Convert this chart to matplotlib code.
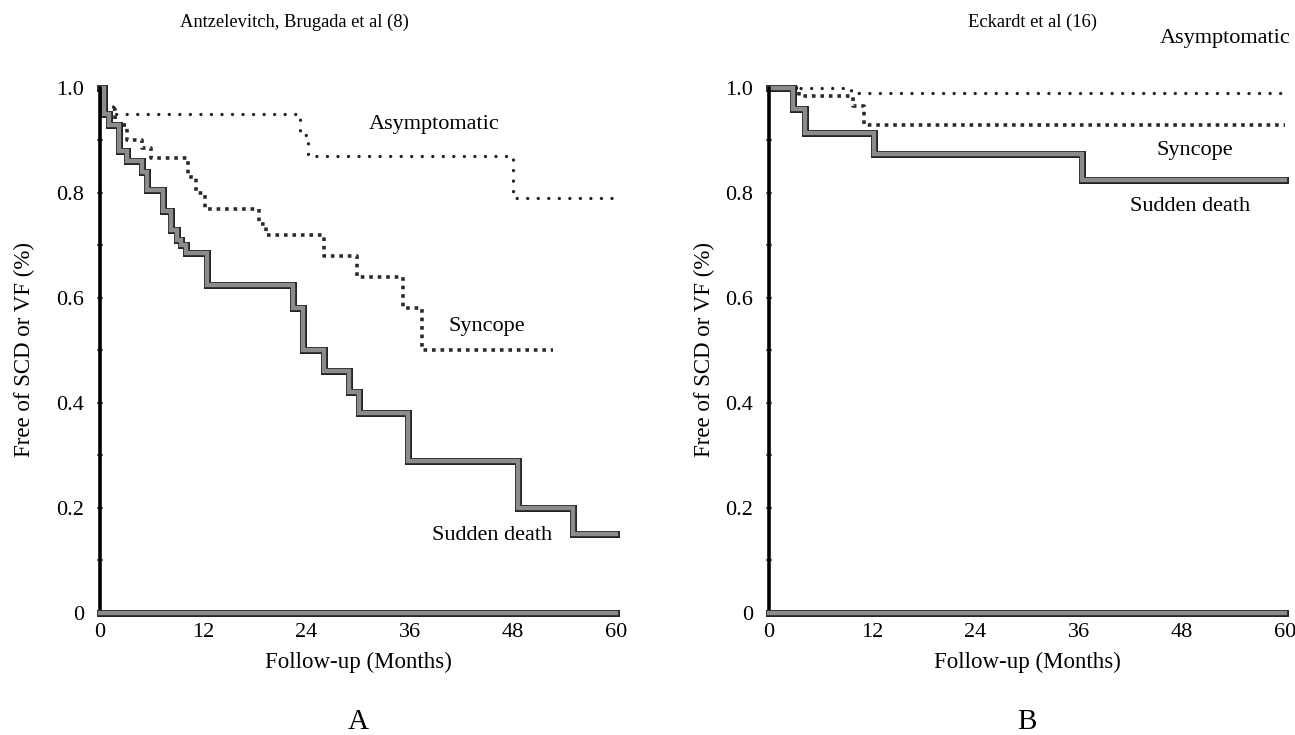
import matplotlib
matplotlib.use("Agg")
import matplotlib.pyplot as plt
import matplotlib.patheffects as pe

plt.rcParams["font.family"] = ["Liberation Serif", "DejaVu Serif"]

# panel A: Antzelevitch, Brugada et al (8) -- step start times (months) and survival
a_asym_t = [0, 0.6, 1.5, 23.2, 24.2, 48.0, 60]
a_asym_s = [1.0, 0.97, 0.95, 0.91, 0.87, 0.79, 0.79]
a_sync_t = [0, 0.6, 1.8, 3.1, 4.9, 5.9, 10.2, 11.2, 12.2, 18.5, 19.3, 26.0, 29.9, 35.2, 37.4, 52.7]
a_sync_s = [1.0, 0.96, 0.93, 0.90, 0.885, 0.867, 0.83, 0.80, 0.77, 0.74, 0.72, 0.68, 0.64, 0.58, 0.50, 0.50]
a_sd_t = [0, 0.5, 1.0, 2.2, 3.1, 4.9, 5.5, 7.3, 8.3, 8.9, 9.4, 10.0, 12.4, 22.4, 23.6,
          26.0, 28.9, 30.1, 35.8, 48.6, 55.0, 60]
a_sd_s = [1.0, 0.95, 0.93, 0.88, 0.86, 0.84, 0.805, 0.765, 0.73, 0.71, 0.70, 0.685, 0.625, 0.58, 0.50,
          0.46, 0.42, 0.38, 0.29, 0.20, 0.15, 0.15]

# panel B: Eckardt et al (16)
b_asym_t = [0, 9.5, 60]
b_asym_s = [1.0, 0.99, 0.99]
b_sync_t = [0, 3.5, 9.8, 11.1, 60]
b_sync_s = [1.0, 0.985, 0.965, 0.93, 0.93]
b_sd_t = [0, 2.8, 4.2, 12.2, 36.4, 60]
b_sd_s = [1.0, 0.96, 0.915, 0.875, 0.825, 0.825]

titles = ["Antzelevitch, Brugada et al (8)", "Eckardt et al (16)"]
letters = ["A", "B"]
xticks = [0, 12, 24, 36, 48, 60]
yticks = [0, 0.2, 0.4, 0.6, 0.8, 1.0]
yticklabels = ["0", "0.2", "0.4", "0.6", "0.8", "1.0"]

# label anchors (month, survival) per panel
labels_a = [("Asymptomatic", 38.8, 0.93), ("Syncope", 45.0, 0.545), ("Sudden death", 45.6, 0.148)]
labels_b = [("Asymptomatic", 53.0, 1.095), ("Syncope", 49.5, 0.88), ("Sudden death", 49.0, 0.775)]

GRAY = "#8c8c8c"
EDGE = [pe.Stroke(linewidth=5.0, foreground="#1e1e1e"), pe.Normal()]

AX_B, AX_H, AX_W = 0.166, 0.7143, 0.3985


def panel(ax, asym, sync, sd, labels):
    ax.step(asym[0], asym[1], where="post", color="#222222", lw=2.4,
            linestyle=(0, (0.01, 3.15)), dash_capstyle="round", clip_on=False)
    ax.step(sync[0], sync[1], where="post", color="#2a2a2a", lw=2.6,
            linestyle=(0, (1.0, 1.35)), dash_capstyle="butt", clip_on=False)
    ax.step(sd[0], sd[1], where="post", color=GRAY, lw=3.2, clip_on=False,
            path_effects=EDGE, solid_joinstyle="miter")
    for txt, x, y in labels:
        ax.text(x, y, txt, ha="center", va="center", fontsize=16)
    ax.set_xlim(0, 60)
    ax.set_ylim(0, 1.0)
    ax.spines[["top", "right"]].set_visible(False)
    ax.spines["left"].set_linewidth(2.6)
    ax.spines["left"].set_color("black")
    ax.spines["bottom"].set_linewidth(3.2)
    ax.spines["bottom"].set_color(GRAY)
    ax.spines["bottom"].set_path_effects(EDGE)
    ax.set_xticks(xticks)
    ax.set_yticks(yticks)
    ax.set_yticklabels(yticklabels)
    ax.set_yticks([0.1, 0.3, 0.5, 0.7, 0.9], minor=True)
    ax.tick_params(which="both", direction="inout", length=5, width=1.6, color="#777777",
                   labelsize=16)
    ax.tick_params(axis="y", pad=9)
    ax.tick_params(axis="x", pad=5)


fig = plt.figure(figsize=(12.95, 7.35), dpi=100)
axA = fig.add_axes([0.0772, AX_B, AX_W, AX_H])
axB = fig.add_axes([0.5938, AX_B, AX_W, AX_H])

panel(axA, (a_asym_t, a_asym_s), (a_sync_t, a_sync_s), (a_sd_t, a_sd_s), labels_a)
panel(axB, (b_asym_t, b_asym_s), (b_sync_t, b_sync_s), (b_sd_t, b_sd_s), labels_b)

for x_yl in (0.019, 0.544):
    fig.text(x_yl, 0.525, "Free of SCD or VF (%)", rotation=90, ha="center", va="center",
             fontsize=16.5)
for xc in (0.2764, 0.7931):
    fig.text(xc, 0.099, "Follow-up (Months)", ha="center", va="center", fontsize=16.5)

fig.text(0.227, 0.969, titles[0], ha="center", va="center", fontsize=13.3)
fig.text(0.797, 0.969, titles[1], ha="center", va="center", fontsize=13.3)
fig.text(0.2764, 0.018, letters[0], ha="center", va="center", fontsize=21)
fig.text(0.7931, 0.018, letters[1], ha="center", va="center", fontsize=21)

fig.savefig("out.png", dpi=100)
